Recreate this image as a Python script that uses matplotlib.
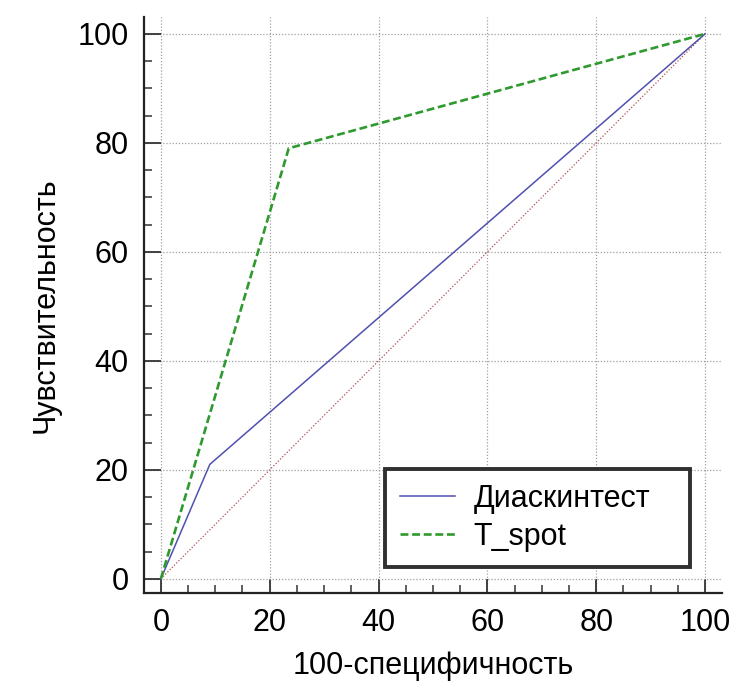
import matplotlib
matplotlib.use('Agg')
import matplotlib.pyplot as plt
from matplotlib.ticker import MultipleLocator

# ROC points (100-specificity, sensitivity)
diaskin_x = [0, 9, 100]
diaskin_y = [0, 21, 100]
tspot_x = [0, 23.5, 100]
tspot_y = [0, 79, 100]
diag = [0, 100]
labels = ['Диаскинтест', 'T_spot']

plt.rcParams['font.family'] = ['Liberation Sans', 'DejaVu Sans']

fig = plt.figure(figsize=(7.35, 6.86), dpi=100)
ax = fig.add_axes([0.1959, 0.1356, 0.7864, 0.8397])

ax.plot(diag, diag, linestyle=(0, (1, 1.5)), color='#b05050', linewidth=0.9)
ax.plot(diaskin_x, diaskin_y, '-', color='#5050b0', linewidth=1.1, label=labels[0])
ax.plot(tspot_x, tspot_y, '--', color='#2e9a2e', linewidth=1.9, dashes=(3, 1.4), label=labels[1])

ax.set_xlim(-3.1, 103.1)
ax.set_ylim(-2.6, 103.1)
ax.xaxis.set_major_locator(MultipleLocator(20))
ax.yaxis.set_major_locator(MultipleLocator(20))
ax.xaxis.set_minor_locator(MultipleLocator(5))
ax.yaxis.set_minor_locator(MultipleLocator(5))

for s in ['top', 'right']:
    ax.spines[s].set_visible(False)
for s in ['left', 'bottom']:
    ax.spines[s].set_linewidth(1.6)
    ax.spines[s].set_color('#222222')

ax.tick_params(which='both', direction='in', labelsize=22, color='#333333')
ax.tick_params(axis='y', which='major', length=12, width=1.3, pad=11)
ax.tick_params(axis='x', which='major', length=10, width=1.3, pad=11)
ax.tick_params(which='minor', length=6, width=1.1)
ax.grid(True, which='major', linestyle=(0, (1, 1.5)), color='#a0a0a0', linewidth=0.9)

ax.set_xlabel('100-специфичность', fontsize=22, labelpad=9)
ax.set_ylabel('Чувствительность', fontsize=22, labelpad=12)

# legend box stretched to the reference width
leg = ax.legend(loc='lower left', bbox_to_anchor=(0.417, 0.045, 0.528, 0.172),
                mode='expand', fontsize=22, frameon=True, fancybox=False,
                framealpha=1, borderpad=0.5, handlelength=1.8, labelspacing=0.25,
                handletextpad=0.6, borderaxespad=0)
leg.get_frame().set_edgecolor('#303030')
leg.get_frame().set_linewidth(2.8)

plt.savefig('out.png', dpi=100)
